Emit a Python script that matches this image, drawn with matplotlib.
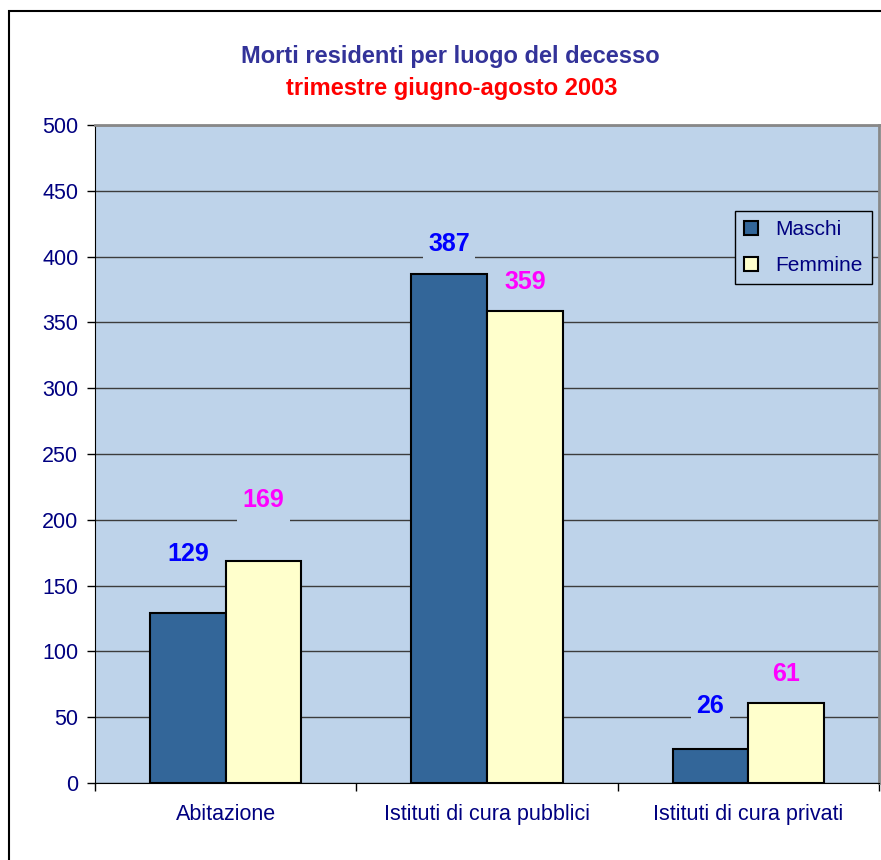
import numpy as np
import matplotlib.pyplot as plt
from matplotlib.patches import Rectangle
from matplotlib.path import Path

plt.rcParams['font.family'] = ['Liberation Sans', 'DejaVu Sans']

categorie = ["Abitazione", "Istituti di cura pubblici", "Istituti di cura privati"]
maschi = [129, 387, 26]
femmine = [169, 359, 61]
serie = ["Maschi", "Femmine"]
yticks = [0, 50, 100, 150, 200, 250, 300, 350, 400, 450, 500]

# label offsets above bar tops (points), as placed by hand in the original
off_m = [42.6, 21.4, 30.8]
off_f = [43.6, 20.6, 20.7]

navy = "#000080"
bg = "#BED3EA"
col_m = "#336699"
col_f = "#FFFFCC"

# excel label boxes reach further down than up
def tallbox(x0, y0, width, height, mutation_size):
	px = 0.22*mutation_size
	pb = 0.5*mutation_size
	pt = 0.12*mutation_size
	return Path([(x0-px, y0-pb), (x0+width+px, y0-pb), (x0+width+px, y0+height+pt),
		(x0-px, y0+height+pt), (x0-px, y0-pb)], closed=True)

fig = plt.figure(figsize=(8.81, 8.6), dpi=100)
ax = fig.add_axes([95/881, 77/860, 784/881, 658/860])
ax.set_facecolor(bg)

x = np.arange(len(categorie))
w = 0.29
bm = ax.bar(x - w/2, maschi, w, color=col_m, edgecolor="black", linewidth=1.5, label=serie[0], zorder=3)
bf = ax.bar(x + w/2, femmine, w, color=col_f, edgecolor="black", linewidth=1.5, label=serie[1], zorder=3)

for i in range(len(categorie)):
	ax.annotate(str(maschi[i]), (x[i] - w/2, maschi[i]), xytext=(0, off_m[i]), textcoords="offset points",
		ha="center", va="center", fontsize=18, fontweight="bold", color="#0000FF", zorder=5,
		bbox=dict(boxstyle=tallbox, facecolor=bg, edgecolor="none"))
	ax.annotate(str(femmine[i]), (x[i] + w/2, femmine[i]), xytext=(0, off_f[i]), textcoords="offset points",
		ha="center", va="center", fontsize=18, fontweight="bold", color="#FF00FF", zorder=5,
		bbox=dict(boxstyle=tallbox, facecolor=bg, edgecolor="none"))

ax.set_xlim(-0.5, 2.5)
ax.set_ylim(0, 500)
ax.set_yticks(yticks)
ax.yaxis.grid(True, color="#3c3c3c", linewidth=1)
ax.set_axisbelow(True)
ax.tick_params(axis="y", labelsize=15.5, labelcolor=navy, length=6, width=1, pad=6)
ax.set_xticks(x)
ax.set_xticklabels(categorie)
ax.tick_params(axis="x", labelsize=15.5, labelcolor=navy, length=0, pad=15)
ax.set_xticks([-0.5, 0.5, 1.5, 2.5], minor=True)
ax.tick_params(axis="x", which="minor", length=6, width=1)

for s in ["top", "right"]:
	ax.spines[s].set_color("#888888")
	ax.spines[s].set_linewidth(2)
ax.spines["left"].set_color("black")
ax.spines["bottom"].set_color("black")

leg = ax.legend(loc="upper left", bbox_to_anchor=(640/784, (783-211)/658), fontsize=15,
	frameon=True, fancybox=False, edgecolor="black", facecolor=bg, framealpha=1, borderaxespad=0,
	handlelength=0.65, handleheight=0.65, handletextpad=0.85, borderpad=0.45, labelspacing=0.8)
for t in leg.get_texts():
	t.set_color(navy)
leg.get_frame().set_linewidth(1)

fig.text(450/881, 1 - 57/860, "Morti residenti per luogo del decesso", ha="center", va="center",
	fontsize=17, fontweight="bold", color="#333399")
fig.text(452/881, 1 - 89/860, "trimestre giugno-agosto 2003", ha="center", va="center",
	fontsize=17, fontweight="bold", color="#FF0000")

fig.patches.append(Rectangle((9/881, -0.05), 1.2, 1.05 - 11/860, transform=fig.transFigure,
	fill=False, edgecolor="black", linewidth=1.5))

fig.savefig("out.png", dpi=100)
